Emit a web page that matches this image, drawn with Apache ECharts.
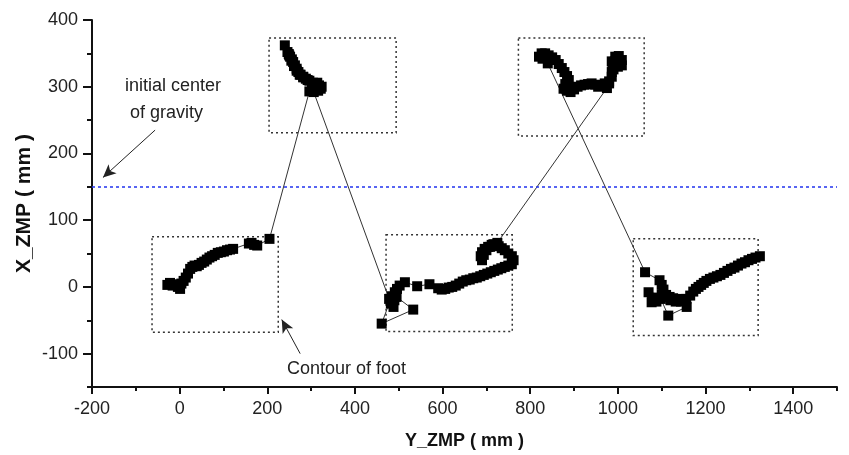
<!DOCTYPE html>
<html style="height: 100%">
<head>
	<meta charset="utf-8">
</head>
<body style="height: 100%; margin: 0; background: #fff">
<div id="container" style="width: 849px; height: 455px"></div>
<script type="text/javascript" src="https://cdn.jsdelivr.net/npm/echarts@6/dist/echarts.min.js"></script>
<script type="text/javascript">
    // ZMP trajectory, one array per foot contact (Y_ZMP, X_ZMP in mm)
    var step1 = [[-28, 3], [-22, 6], [-16, 2], [-10, 4], [-4, 0], [1, -3], [4, 5], [9, 9], [14, 14], [19, 20],
        [24, 27], [29, 30], [34, 32], [39, 31], [44, 33], [50, 36], [56, 38], [62, 41], [68, 44], [74, 46],
        [80, 48], [87, 51], [94, 52], [101, 53], [108, 55], [115, 56], [122, 57], [158, 65], [164, 66],
        [170, 63], [177, 62], [205, 72]];
    var step2 = [[296, 293], [304, 296], [312, 299], [318, 302], [322, 297], [316, 294], [324, 300], [314, 306],
        [304, 306], [296, 309], [288, 312], [282, 315], [276, 318], [271, 322], [267, 327], [263, 332],
        [259, 337], [256, 341], [252, 345], [249, 349], [246, 352], [240, 362], [250, 347], [255, 339],
        [261, 331], [267, 324], [274, 318], [282, 314], [292, 310], [302, 304], [312, 300], [306, 292]];
    var step3 = [[478, -18], [482, -25], [488, -30], [490, -20], [484, -14], [461, -55], [533, -34], [495, -15],
        [491, -8], [496, -3], [502, 2], [514, 7], [542, 1], [570, 4], [590, -2], [598, -4], [606, -3],
        [614, -1], [622, 0], [630, 2], [638, 5], [646, 8], [654, 10], [662, 11], [670, 13], [678, 14],
        [686, 16], [694, 18], [702, 20], [710, 22], [718, 24], [726, 26], [734, 28], [742, 30], [750, 32],
        [758, 34], [762, 40], [758, 46], [750, 50], [742, 55], [735, 58], [728, 61], [720, 63], [712, 63],
        [704, 60], [696, 57], [690, 52], [687, 46], [690, 40], [694, 48], [700, 55], [708, 60], [716, 64],
        [725, 66]];
    var step4 = [[975, 298], [980, 305], [986, 315], [986, 322], [988, 330], [986, 338], [994, 345], [1002, 346],
        [1009, 340], [1009, 332], [1000, 330], [994, 338], [990, 326], [980, 308], [970, 305], [962, 302],
        [955, 300], [948, 303], [940, 305], [932, 304], [924, 303], [916, 302], [908, 300], [900, 296],
        [892, 292], [884, 294], [876, 297], [880, 304], [888, 310], [884, 316], [878, 322], [872, 328],
        [865, 334], [858, 340], [850, 344], [842, 347], [834, 350], [826, 350], [820, 345], [828, 342],
        [840, 335]];
    var step5 = [[1062, 22], [1095, 10], [1100, 3], [1104, -4], [1100, -12], [1070, -8], [1078, -16], [1077, -23],
        [1088, -22], [1098, -18], [1115, -43], [1157, -30], [1150, -20], [1142, -18], [1134, -19],
        [1126, -17], [1118, -15], [1110, -12], [1120, -20], [1132, -22], [1144, -22], [1156, -18],
        [1165, -13], [1172, -7], [1178, -3], [1184, 0], [1190, 3], [1196, 6], [1202, 9], [1210, 12],
        [1218, 14], [1226, 16], [1234, 18], [1242, 21], [1250, 24], [1258, 27], [1266, 29], [1274, 32],
        [1282, 35], [1290, 37], [1298, 40], [1306, 42], [1314, 44], [1324, 46]];

    // foot contours: [yMin, yMax, xMin, xMax]
    var footBoxes = [[-63, 225, -68, 75], [204, 494, 231, 373], [471, 759, -67, 78],
        [773, 1060, 226, 373], [1035, 1320, -73, 72]];

    var initialCog = 150;

    var xMajor = [-200, 0, 200, 400, 600, 800, 1000, 1200, 1400];
    var yMajor = [-100, 0, 100, 200, 300, 400];

    var font = "'Liberation Sans', Arial, sans-serif";
    var dom = document.getElementById("container");
    var myChart = echarts.init(dom);

    var trajectory = step1.concat(step2, step3, step4, step5);

    var areas = footBoxes.map(function (b) {
        return [{coord: [b[0], b[3]]}, {coord: [b[1], b[2]]}];
    });

    var plain = function (v) { return String(v); };

    var option = {
        animation: false,
        backgroundColor: '#fff',
        grid: {left: 92, right: 12, top: 20, bottom: 68},
        xAxis: [{
            type: 'value', min: -200, max: 1500, interval: 100,
            name: 'Y_ZMP ( mm )', nameLocation: 'middle', nameGap: 45,
            nameTextStyle: {fontFamily: font, fontSize: 18, fontWeight: 'bold', color: '#111'},
            axisLine: {show: true, onZero: false, lineStyle: {color: '#111', width: 2}},
            axisTick: {show: true, length: 4, lineStyle: {color: '#111', width: 2}},
            axisLabel: {show: false},
            splitLine: {show: false}
        }, {
            type: 'value', min: -200, max: 1500, position: 'bottom',
            axisLine: {show: false, onZero: false},
            axisTick: {show: true, length: 7, customValues: xMajor, lineStyle: {color: '#111', width: 2}},
            axisLabel: {show: true, customValues: xMajor, formatter: plain, margin: 13,
                fontFamily: font, fontSize: 18, color: '#222'},
            splitLine: {show: false}
        }],
        yAxis: [{
            type: 'value', min: -150, max: 400, interval: 50,
            name: 'X_ZMP ( mm )', nameLocation: 'middle', nameGap: 57,
            nameTextStyle: {fontFamily: font, fontSize: 21, fontWeight: 'bold', color: '#111'},
            axisLine: {show: true, onZero: false, lineStyle: {color: '#111', width: 2}},
            axisTick: {show: true, length: 5, lineStyle: {color: '#111', width: 2}},
            axisLabel: {show: false},
            splitLine: {show: false}
        }, {
            type: 'value', min: -150, max: 400, position: 'left',
            axisLine: {show: false, onZero: false},
            axisTick: {show: true, length: 9, customValues: yMajor, lineStyle: {color: '#111', width: 2}},
            axisLabel: {show: true, customValues: yMajor, formatter: plain, margin: 14,
                fontFamily: font, fontSize: 18, color: '#222'},
            splitLine: {show: false}
        }],
        series: [{
            type: 'line',
            xAxisIndex: 0, yAxisIndex: 0,
            data: trajectory,
            symbol: 'rect',
            symbolSize: 10,
            showAllSymbol: true,
            itemStyle: {color: '#000'},
            lineStyle: {color: '#333', width: 1},
            markArea: {
                silent: true,
                itemStyle: {color: 'rgba(0,0,0,0)', borderColor: '#333', borderWidth: 1.5, borderType: [2, 3]},
                data: areas
            },
            markLine: {
                silent: true,
                symbol: ['none', 'none'],
                label: {show: false},
                data: [
                    {yAxis: initialCog, lineStyle: {color: '#2233ee', width: 1.5, type: [3, 3]}},
                    [{coord: [-56, 235], symbol: 'none'},
                     {coord: [-175, 164], symbol: 'arrow', symbolSize: [9, 13]}],
                    [{coord: [275, -100], symbol: 'none'},
                     {coord: [233, -49], symbol: 'arrow', symbolSize: [9, 13]}]
                ],
                lineStyle: {color: '#222', width: 1, type: 'solid'}
            }
        }],
        graphic: [
            {type: 'text', x: 125, y: 77, style: {text: 'initial center', font: '18px ' + font, fill: '#222'}},
            {type: 'text', x: 130, y: 104, style: {text: 'of gravity', font: '18px ' + font, fill: '#222'}},
            {type: 'text', x: 287, y: 360, style: {text: 'Contour of foot', font: '18px ' + font, fill: '#222'}}
        ]
    };

    myChart.setOption(option);
</script>
</body>
</html>
